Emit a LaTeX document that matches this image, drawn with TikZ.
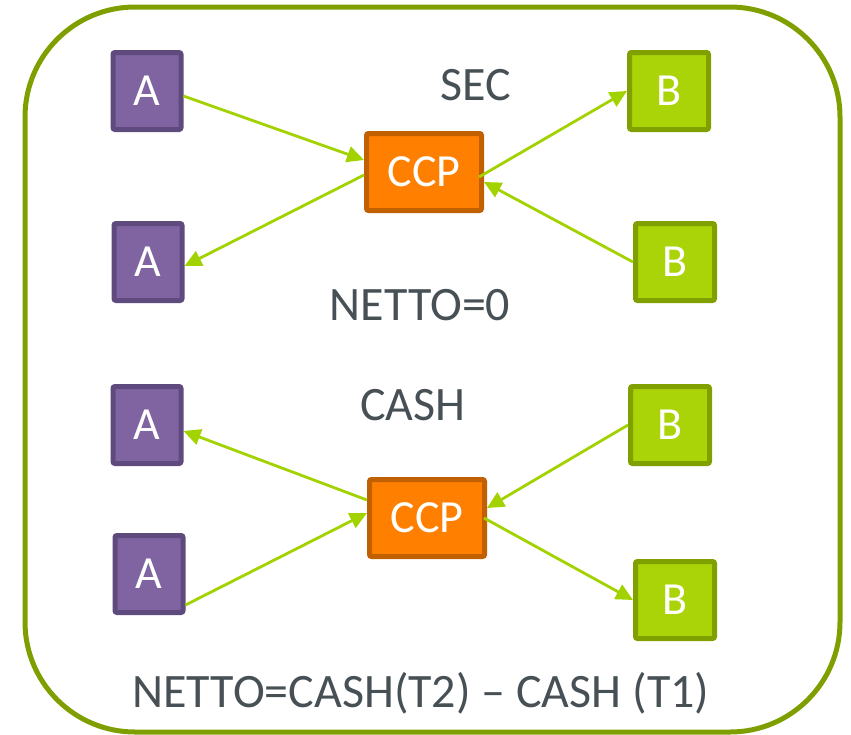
\documentclass[tikz,border=0pt]{standalone}
\usepackage{fontspec}
\setmainfont{Carlito}
\usetikzlibrary{arrows.meta,positioning}
\definecolor{framegreen}{HTML}{7F9F00}
\definecolor{arrowgreen}{HTML}{A2D200}
\definecolor{bfill}{HTML}{AAD408}
\definecolor{bline}{HTML}{80A000}
\definecolor{afill}{HTML}{8064A2}
\definecolor{aline}{HTML}{5E4A7C}
\definecolor{ccpfill}{HTML}{FF8000}
\definecolor{ccpline}{HTML}{C06000}
\definecolor{textgray}{HTML}{475055}
\tikzset{
    box/.style={draw, line width=5pt, rounded corners=2pt, text=white, inner sep=0pt,
        font=\fontsize{46}{50}\selectfont},
    abox/.style={box, fill=afill, draw=aline, minimum width=68pt, minimum height=77pt},
    bbox/.style={box, fill=bfill, draw=bline, minimum width=79pt, minimum height=77pt},
    ccpbox/.style={box, fill=ccpfill, draw=ccpline, minimum width=115pt, minimum height=77pt},
    label/.style={text=textgray, font=\fontsize{48}{52}\selectfont},
    flow/.style={draw=arrowgreen, line width=2.8pt, -{Triangle[length=17pt,width=16pt]}}
}
\begin{document}
\begin{tikzpicture}[x=1pt, y=-1pt]
    \useasboundingbox (0, 0) rectangle (851, 734);
    \draw[framegreen, line width=5pt, rounded corners=110pt] (25, 7) rectangle (840, 732);

    \node[abox] (a1) at (147, 91) {A};
    \node[abox] (a2) at (148, 262) {A};
    \node[ccpbox] (ccp1) at (424, 172) {CCP};
    \node[bbox] (b1) at (669, 91) {B};
    \node[bbox] (b2) at (675, 262) {B};
    \node[label] (sec) at (476, 85) {SEC};
    \node[label] (netto1) at (420, 305) {NETTO=0};

    \node[label] (cash) at (413, 405) {CASH};
    \node[abox] (a3) at (147, 425) {A};
    \node[abox] (a4) at (149, 574) {A};
    \node[ccpbox] (ccp2) at (427, 518) {CCP};
    \node[bbox] (b3) at (670, 425) {B};
    \node[bbox] (b4) at (675, 600) {B};
    \node[label] (netto2) at (421, 693) {NETTO=CASH(T2) -- CASH (T1)};

    \draw[flow] ([yshift=-5pt]a1.east) -- ([yshift=12pt]ccp1.west);
    \draw[flow] ([yshift=-3pt]ccp1.west) -- ([yshift=-4pt]a2.east);
    \draw[flow] ([xshift=-5pt, yshift=-5pt]ccp1.east) -- (b1.west);
    \draw[flow] (b2.west) -- ([yshift=-10pt]ccp1.east);

    \draw[flow] ([yshift=18pt]ccp2.west) -- ([yshift=-6pt]a3.east);
    \draw[flow] ([yshift=-31pt]a4.east) -- ([yshift=5pt]ccp2.west);
    \draw[flow] (b3.west) -- ([yshift=10pt]ccp2.east);
    \draw[flow] ([xshift=-3pt]ccp2.east) -- (b4.west);
\end{tikzpicture}
\end{document}
